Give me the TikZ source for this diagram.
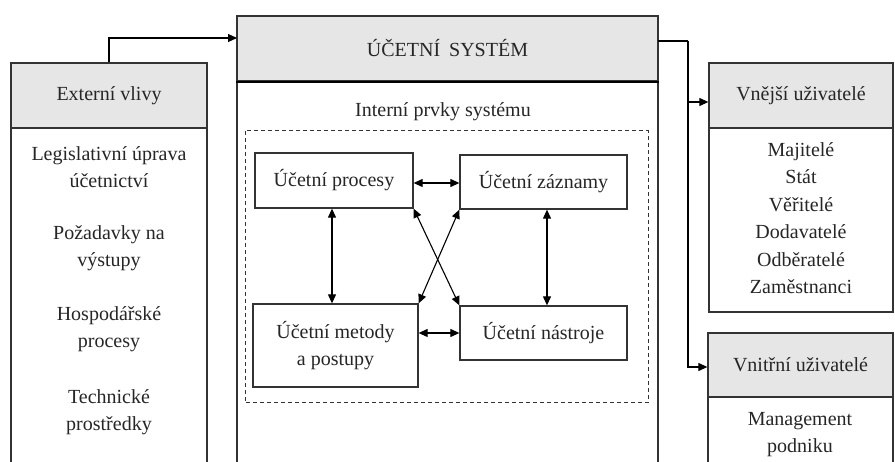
\documentclass[tikz,border=0pt]{standalone}
\usepackage{fontspec}
\setmainfont{Liberation Serif}
\usetikzlibrary{arrows.meta}
\definecolor{hdrgray}{HTML}{E6E6E6}
\definecolor{linec}{HTML}{333333}
\begin{document}
\begin{tikzpicture}[x=1pt,y=-1pt,
  every node/.style={font=\fontsize{20}{27}\selectfont, text=black!85},
  outline/.style={draw=linec, line width=1.3pt},
  hdr/.style={draw=linec, line width=1.3pt, fill=hdrgray, inner sep=0pt},
  ibox/.style={draw=linec, line width=1.3pt, fill=white, inner sep=0pt},
  txt/.style={align=center, inner sep=0pt},
  arr/.style={draw=black, line width=1.1pt, -{Triangle[length=9pt,width=8pt]}},
  darr/.style={draw=black, line width=1.1pt, {Triangle[length=9pt,width=8pt]}-{Triangle[length=9pt,width=8pt]}},
  dbox/.style={draw=linec, line width=1pt, dash pattern=on 4pt off 3pt}
]
\useasboundingbox (0,0) rectangle (895,462);
\fill[white] (0,0) rectangle (895,462);

% ---- left box: external influences
\draw[outline] (11,462) -- (11,63) -- (207,63) -- (207,462);
\node[hdr, minimum width=196pt, minimum height=65pt] (ext) at (109,95.5) {Externí vlivy};
\node[txt] (l1) at (109,167) {Legislativní úprava\\účetnictví};
\node[txt] (l2) at (109,248) {Požadavky na\\výstupy};
\node[txt] (l3) at (109,329) {Hospodářské\\procesy};
\node[txt] (l4) at (109,412) {Technické\\prostředky};

% ---- main box: accounting system
\draw[outline] (237,462) -- (237,16) -- (658,16) -- (658,462);
\node[hdr, minimum width=421pt, minimum height=65pt] (sys) at (447.5,48.5) {ÚČETNÍ\hspace{0.45em}SYSTÉM};
\draw[draw=black, line width=2.2pt] (sys.south west) -- (sys.south east);
\node[txt] (intern) at (443,112) {Interní prvky systému};
\draw[dbox] (245,131) rectangle (648,403);

\node[ibox, minimum width=158pt, minimum height=55pt] (proc) at (334,180.5) {Účetní procesy};
\node[ibox, minimum width=167pt, minimum height=54pt] (zazn) at (543.5,182) {Účetní záznamy};
\node[ibox, minimum width=165pt, minimum height=83pt, align=center] (meto) at (335.5,345.5) {Účetní metody\\a postupy};
\node[ibox, minimum width=167pt, minimum height=54pt] (nast) at (543.5,333) {Účetní nástroje};

\draw[darr] (proc.east |- 0,183) -- (zazn.west |- 0,183);
\draw[darr] (meto.east |- nast.west) -- (nast.west);
\draw[darr] (proc.south -| 332,0) -- (meto.north -| 332,0);
\draw[darr] (zazn.south -| 547,0) -- (nast.north -| 547,0);
\draw[darr] (proc.south east) -- (nast.north west);
\draw[darr] (zazn.south west) -- (meto.north east);

% ---- right boxes: users
\draw[outline] (709,128) rectangle (893,312);
\node[hdr, minimum width=184pt, minimum height=65pt] (vnej) at (801,95.5) {Vnější uživatelé};
\node[txt, font=\fontsize{20}{27.5}\selectfont] (vlist) at (801,218) {Majitelé\\Stát\\Věřitelé\\Dodavatelé\\Odběratelé\\Zaměstnanci};

\draw[outline] (708,462) -- (708,333) -- (893,333) -- (893,462);
\node[hdr, minimum width=185pt, minimum height=64pt] (vnit) at (800.5,365) {Vnitřní uživatelé};
\node[txt] (mgmt) at (800,435) {Management\\podniku};

% ---- connectors
\coordinate (sysin) at (237,38);
\draw[arr] (ext.north) |- (sysin);
\coordinate (sysout) at (658,41);
\coordinate (bus) at (688,41);
\draw[line width=1.1pt] (sysout) -- (bus);
\draw[arr] (bus) |- (vnej.west |- 0,102);
\draw[arr] (bus) |- (vnit.west |- 0,367);
\end{tikzpicture}
\end{document}
